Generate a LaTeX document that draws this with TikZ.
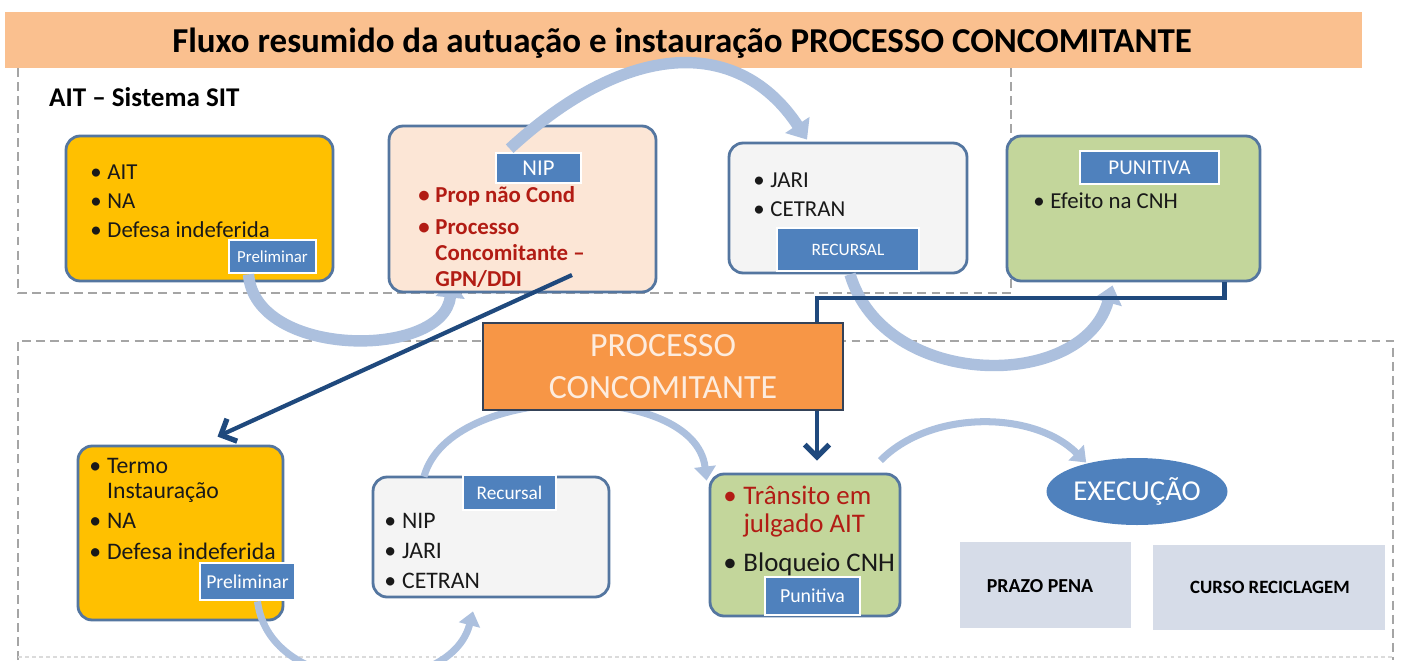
\documentclass[tikz,border=0pt]{standalone}
\usepackage{fontspec}
\setmainfont{Carlito}
\usetikzlibrary{arrows.meta,calc,shapes.geometric}

\definecolor{faixa}{RGB}{250,192,143}
\definecolor{ambar}{RGB}{255,192,0}
\definecolor{contorno}{RGB}{84,118,160}
\definecolor{pessego}{RGB}{252,230,214}
\definecolor{cinzabox}{RGB}{244,244,244}
\definecolor{verde}{RGB}{195,214,155}
\definecolor{azultag}{RGB}{79,129,189}
\definecolor{azularco}{RGB}{172,192,222}
\definecolor{azulescuro}{RGB}{31,73,125}
\definecolor{laranja}{RGB}{247,150,70}
\definecolor{bordapc}{RGB}{52,66,88}
\definecolor{creme}{RGB}{253,236,222}
\definecolor{vermelho}{RGB}{178,28,20}
\definecolor{cinzaexec}{RGB}{214,220,232}
\definecolor{tracejado}{RGB}{165,165,165}

\newcommand{\bul}{\makebox[0.75em][l]{\textbullet}}
\newcommand{\recuo}{\hspace*{0.75em}}

\tikzset{
  caixa/.style={draw=contorno, line width=1.6pt, rounded corners=8pt, inner sep=0pt},
  etiqueta/.style={fill=azultag, draw=white, line width=1.5pt, text=white, inner sep=0pt},
  texto/.style={anchor=base west, align=left, inner sep=0pt, text=black!90},
  arcogrosso/.style={draw=azularco, line width=6.5pt, -{Triangle[length=10pt,width=16pt]}},
  arcofino/.style={draw=azularco, line width=4pt, -{Triangle[length=8pt,width=12pt]}},
  seta/.style={draw=azulescuro, line width=2.4pt, -{Straight Barb[length=7pt,width=14pt,line width=3pt]}},
  linha/.style={draw=azulescuro, line width=2.4pt},
  tracos/.style={draw=tracejado, line width=1.5pt, dash pattern=on 5pt off 3pt},
}

\begin{document}
\begin{tikzpicture}[x=0.02cm, y=-0.02cm]
  \clip (0,0) rectangle (1402,660);
  \fill[white] (0,0) rectangle (1402,660);

  % Title band
  \fill[faixa] (5,12) rectangle (1362,68);
  \node[anchor=base, font=\bfseries\fontsize{19.9}{22}\selectfont] (titulo) at (682,52)
    {Fluxo resumido da autuação e instauração PROCESSO CONCOMITANTE};

  % Dashed frames
  \draw[tracos] (18,68) -- (18,293) -- (1011,293);
  \draw[tracos] (1011,68) -- (1011,290);
  \draw[tracos] (18,660) -- (18,341) -- (1393,341) -- (1393,660);
  \draw[tracejado!40, line width=1pt, dash pattern=on 2pt off 2pt] (18,657) -- (1393,657);

  \node[anchor=base west, font=\bfseries\fontsize{15.4}{18}\selectfont] (sit) at (43,106) {AIT – Sistema SIT};

  % Upper row
  \coordinate (fimarco) at (452,280);
  \node[caixa, fill=ambar, minimum width=5.34cm, minimum height=2.9cm] (ait) at (199.5,208.5) {};
  \node[etiqueta, minimum width=1.74cm, minimum height=0.66cm, font=\fontsize{9.6}{11}\selectfont] (prel1) at (272.5,256.5) {Preliminar};
  \draw[arcogrosso] ($(prel1.south)+(-24,0)$) .. controls (255,359) and (444,359) .. (fimarco);
  \node[caixa, fill=pessego, minimum width=5.34cm, minimum height=3.32cm] (nip) at (522.5,209) {};
  \node[caixa, fill=cinzabox, minimum width=4.76cm, minimum height=2.6cm] (jari) at (848,208) {};
  \node[caixa, fill=verde, minimum width=5.06cm, minimum height=2.9cm] (pun) at (1133.5,208.5) {};
  \node[etiqueta, minimum width=1.7cm, minimum height=0.6cm, font=\fontsize{12.9}{14}\selectfont] (niptag) at (538.5,168) {NIP};
  \node[etiqueta, minimum width=2.84cm, minimum height=0.86cm, font=\fontsize{9.9}{11}\selectfont] (recursal1) at (848,249.5) {RECURSAL};
  \node[etiqueta, minimum width=2.78cm, minimum height=0.66cm, font=\fontsize{12}{14}\selectfont] (puntag) at (1149.5,167.5) {PUNITIVA};

  % Upper arcs
  \draw[arcogrosso] ($(niptag.north west)+(15,-3)$) .. controls (630,38) and (740,38) .. ($(jari.north)+(-41,-2)$);
  \draw[arcogrosso] ($(recursal1.south)+(2,2)$) .. controls (885,391) and (1083,391) .. ($(pun.south)+(-21,3)$);

  % Upper texts
  \node[texto, font=\fontsize{13}{16.5}\selectfont] (aittxt) at (90,237)
    {\bul AIT\\\bul NA\\\bul Defesa indeferida};
  \node[texto, font=\bfseries\fontsize{13}{14.7}\selectfont, text=vermelho] (niptxt) at (418,286)
    {\bul Prop não Cond\\[3.3pt]\bul Processo\\\recuo Concomitante –\\\recuo GPN/DDI};
  \node[texto, font=\fontsize{13}{16.5}\selectfont] (jaritxt) at (753,216)
    {\bul JARI\\\bul CETRAN};
  \node[texto, font=\fontsize{13}{16.5}\selectfont] (puntxt) at (1033,208)
    {\bul Efeito na CNH};

  % Lower row
  \node[caixa, fill=ambar, minimum width=4.1cm, minimum height=3.48cm] (termo) at (180.5,533) {};
  \node[caixa, fill=cinzabox, minimum width=4.72cm, minimum height=2.4cm] (rec) at (491,537) {};
  \node[caixa, fill=verde, minimum width=3.8cm, minimum height=2.84cm] (tj) at (805,545) {};
  \node[ellipse, fill=azultag, minimum width=3.62cm, minimum height=1.34cm, inner sep=0pt,
    text=white, font=\fontsize{16.4}{18}\selectfont] (exec) at (1137,491.5) {EXECUÇÃO};
  \node[fill=cinzaexec, minimum width=3.42cm, minimum height=1.72cm, inner sep=0pt] (prazo) at (1045.5,585) {};
  \node[fill=cinzaexec, minimum width=4.64cm, minimum height=1.7cm, inner sep=0pt] (curso) at (1269,587.5) {};
  \node[anchor=base, font=\bfseries\fontsize{11.3}{13}\selectfont] (prazotxt) at (1040,592) {PRAZO PENA};
  \node[anchor=base, font=\bfseries\fontsize{10.7}{13}\selectfont] (cursotxt) at (1270,593) {CURSO RECICLAGEM};

  % Lower tags
  \node[etiqueta, minimum width=1.9cm, minimum height=0.74cm, font=\fontsize{11.2}{13}\selectfont] (prel2) at (247.5,581.5) {Preliminar};
  \node[etiqueta, minimum width=1.86cm, minimum height=0.7cm, font=\fontsize{11}{13}\selectfont] (recursal2) at (509.5,492.5) {Recursal};
  \node[etiqueta, minimum width=1.9cm, minimum height=0.76cm, font=\fontsize{11.3}{13}\selectfont] (puntag2) at (812.5,596) {Punitiva};

  % Lower arcs
  \draw[arcofino] ($(rec.north)+(-67,1)$) .. controls (450,381) and (695,381) .. ($(tj.north west)+(-2,8)$);
  \draw[arcofino] ($(prel2.south)+(10,0)$) .. controls (270,700) and (450,700) .. ($(rec.south)+(-18,13)$);
  \draw[arcofino] ($(tj.north east)+(-21,-12)$) .. controls (930,410) and (1033,410) .. ($(exec.west)+(40,-29)$);

  % Processo concomitante
  \node[draw=bordapc, line width=1.6pt, fill=laranja, minimum width=7.2cm, minimum height=1.74cm,
    inner sep=0pt, align=center, text=creme, font=\fontsize{19.3}{23.8}\selectfont] (pc) at (663,366.5)
    {PROCESSO\\CONCOMITANTE};

  % Lower texts
  \node[texto, font=\fontsize{13.5}{14.2}\selectfont] (termotxt) at (89,559)
    {\bul Termo\\\recuo Instauração\\[3pt]\bul NA\\[3pt]\bul Defesa indeferida};
  \node[texto, font=\fontsize{13.5}{16.8}\selectfont] (rectxt) at (384,588)
    {\bul NIP\\\bul JARI\\\bul CETRAN};
  \node[texto, font=\fontsize{15.3}{15.6}\selectfont, text=vermelho] (tjtxt) at (723,532)
    {\bul Trânsito em\\\recuo julgado AIT};
  \node[texto, font=\fontsize{15.3}{16.4}\selectfont] (tjtxt2) at (723,571)
    {\bul Bloqueio CNH};

  % Dark connectors
  \coordinate (gpn) at (572,275);
  \coordinate (desvio) at (817,298);
  \draw[seta] (gpn) -- ($(termo.north)+(37,-8)$);
  \draw[linha] ($(pun.south east)+(-37,0)$) |- (desvio) -- (desvio |- pc.north);
  \draw[seta] (desvio |- pc.south) -- ($(tj.north)+(12,-12)$);
\end{tikzpicture}
\end{document}
